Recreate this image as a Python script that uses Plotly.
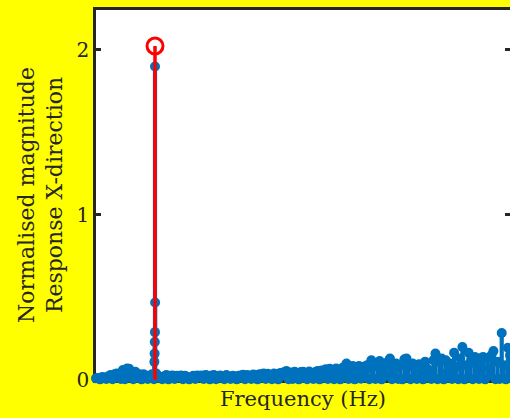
import plotly.graph_objects as go

# ---- data ----
freq_step = 0.25  # Hz between spectrum bins
noise_mag = [
    0.010, 0.012, 0.004, 0.018, 0.015, 0.006, 0.022, 0.030, 0.005, 0.035,
    0.040, 0.028, 0.006, 0.060, 0.005, 0.070, 0.068, 0.050, 0.005, 0.050,
    0.030, 0.035, 0.004, 0.035, 0.028, 0.006, 0.025, 0.035, 0.005, 0.040,
    0.025, 0.018, 0.005, 0.022, 0.030, 0.004, 0.025, 0.028, 0.006, 0.026,
    0.022, 0.027, 0.005, 0.025, 0.020, 0.004, 0.015, 0.025, 0.006, 0.028,
    0.020, 0.027, 0.006, 0.030, 0.025, 0.004, 0.028, 0.030, 0.005, 0.022,
    0.028, 0.020, 0.005, 0.030, 0.018, 0.006, 0.026, 0.022, 0.004, 0.025,
    0.028, 0.032, 0.005, 0.030, 0.026, 0.006, 0.034, 0.030, 0.004, 0.035,
    0.033, 0.040, 0.006, 0.038, 0.030, 0.005, 0.040, 0.036, 0.004, 0.042,
    0.040, 0.048, 0.055, 0.005, 0.045, 0.006, 0.050, 0.042, 0.004, 0.048,
    0.050, 0.030, 0.005, 0.052, 0.025, 0.006, 0.048, 0.055, 0.004, 0.058,
    0.045, 0.065, 0.006, 0.068, 0.050, 0.005, 0.070, 0.060, 0.004, 0.072,
    0.080, 0.100, 0.006, 0.040, 0.085, 0.004, 0.050, 0.085, 0.008, 0.080,
    0.060, 0.090, 0.005, 0.120, 0.080, 0.006, 0.100, 0.115, 0.004, 0.070,
    0.040, 0.110, 0.130, 0.005, 0.060, 0.100, 0.006, 0.090, 0.004, 0.125,
    0.130, 0.080, 0.005, 0.100, 0.070, 0.006, 0.095, 0.060, 0.004, 0.110,
    0.070, 0.050, 0.006, 0.120, 0.160, 0.005, 0.110, 0.130, 0.004, 0.120,
    0.050, 0.100, 0.006, 0.165, 0.080, 0.005, 0.130, 0.200, 0.004, 0.090,
    0.165, 0.110, 0.005, 0.140, 0.090, 0.006, 0.120, 0.140, 0.004, 0.130,
    0.070, 0.150, 0.175, 0.005, 0.110, 0.006, 0.285, 0.090, 0.004, 0.195,
    0.150,
]
peak_freqs = [7.05, 7.08, 7.10, 7.12, 7.14, 7.125]
peak_mags = [0.11, 0.16, 0.23, 0.29, 0.47, 1.90]
max_freq = 7.125
max_mag = 2.024
y_ticks = [0, 1, 2]
y_ticktext = ["0", "1", "2"]
x_range = [0, 50]
y_range = [0, 2.242]

# ---- build ----
noise_freqs = [i * freq_step for i in range(len(noise_mag))]
freqs = noise_freqs + peak_freqs
mags = noise_mag + peak_mags

stem_x, stem_y = [], []
for f, m in zip(freqs, mags):
    stem_x += [f, f, None]
    stem_y += [0, m, None]

BLUE = "#0072BD"
RED = "#FF0000"
AX = "#262626"
FONT = "DejaVu Serif"

fig = go.Figure()
fig.add_trace(go.Scatter(x=stem_x, y=stem_y, mode="lines",
                         line=dict(color=BLUE, width=4.2, simplify=False),
                         hoverinfo="skip", showlegend=False))
fig.add_trace(go.Scatter(x=freqs, y=mags, mode="markers",
                         marker=dict(color=BLUE, size=10, line=dict(width=0)),
                         cliponaxis=False, showlegend=False))
fig.add_trace(go.Scatter(x=[max_freq, max_freq], y=[0, max_mag], mode="lines",
                         line=dict(color=RED, width=3.5), yaxis="y2",
                         hoverinfo="skip", showlegend=False))
fig.add_trace(go.Scatter(x=[max_freq], y=[max_mag], mode="markers",
                         yaxis="y2",
                         marker=dict(symbol="circle-open", color=RED, size=16,
                                     line=dict(width=3, color=RED)),
                         cliponaxis=False, showlegend=False))

fig.update_layout(
    width=510, height=418,
    margin=dict(l=96, r=0, t=10, b=38),
    paper_bgcolor="#FFFF00",
    plot_bgcolor="#FFFFFF",
    font=dict(family=FONT, size=20, color=AX),
    xaxis=dict(range=x_range, showline=True, mirror=True, linecolor=AX,
               linewidth=2.5, ticks="", showticklabels=False, showgrid=False,
               zeroline=False, layer="below traces",
               title=dict(text="Frequency (Hz)", standoff=10,
                          font=dict(family=FONT, size=21, color=AX))),
    yaxis=dict(range=y_range, tickvals=y_ticks, ticktext=y_ticktext,
               ticks="inside", ticklen=5, tickwidth=2.5, tickcolor=AX,
               showline=True, mirror=False, linecolor=AX, linewidth=2.5,
               showgrid=False, zeroline=False, layer="below traces",
               tickfont=dict(family=FONT, size=20, color=AX),
               title=dict(text="Normalised magnitude<br>Response X-direction",
                          standoff=8,
                          font=dict(family=FONT, size=22, color=AX))),
    yaxis2=dict(range=y_range, overlaying="y", side="right",
                tickvals=y_ticks, ticks="inside", ticklen=5, tickwidth=2.5,
                tickcolor=AX, showticklabels=False, showline=False,
                showgrid=False, zeroline=False, layer="below traces"),
)

fig.write_html("out.html")
